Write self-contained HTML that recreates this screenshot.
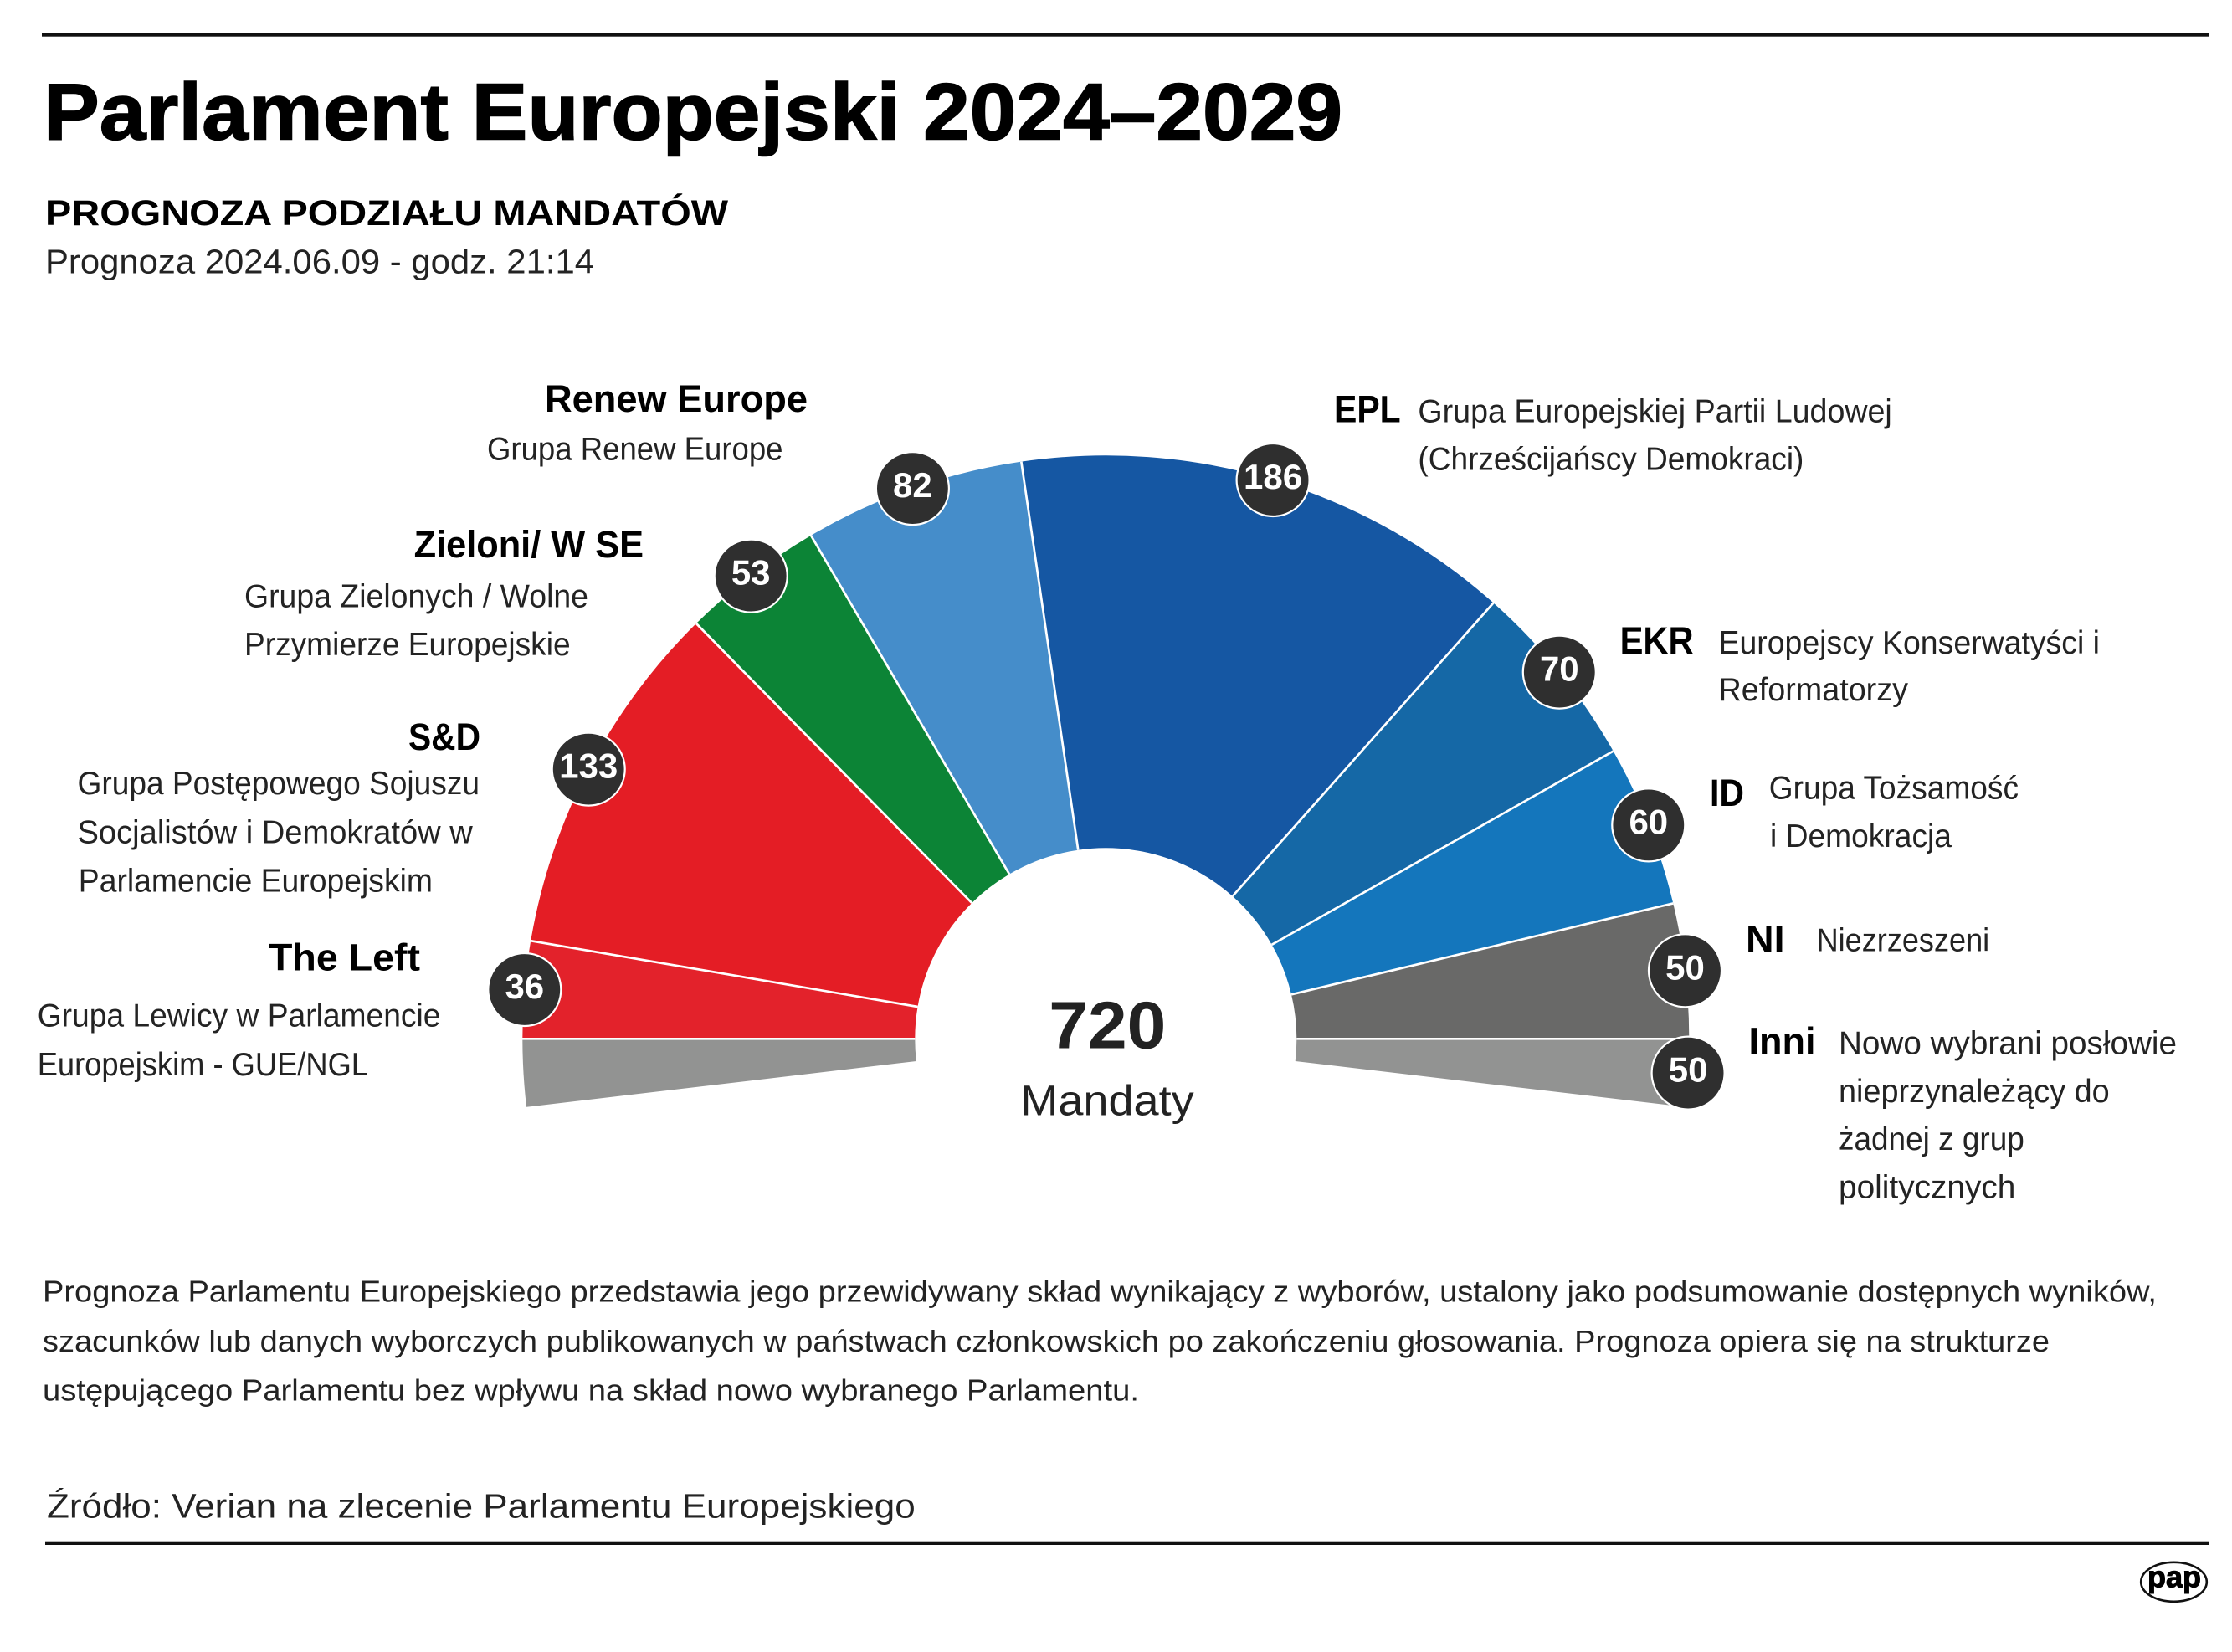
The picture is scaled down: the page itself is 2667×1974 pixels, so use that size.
<!DOCTYPE html>
<html>
<head>
<meta charset="utf-8">
<style>
  html,body{margin:0;padding:0;background:#fff;}
  svg{display:block;}
  text{font-family:"Liberation Sans", "DejaVu Sans", sans-serif;}
  .b{font-weight:bold;fill:#000;}
  .r{font-weight:normal;fill:#232323;}
  .num{font-weight:bold;fill:#fff;font-size:42px;}
</style>
</head>
<body>
<svg width="2667" height="1974" viewBox="0 0 2667 1974" xmlns="http://www.w3.org/2000/svg">
  <rect x="0" y="0" width="2667" height="1974" fill="#fff"/>
  <!-- top rule -->
  <rect x="50" y="39.5" width="2590" height="4.2" fill="#111"/>

  <!-- header -->
  <text class="b" x="52" y="166.7" font-size="96" textLength="1552" lengthAdjust="spacingAndGlyphs" stroke="#000" stroke-width="1.5">Parlament Europejski 2024–2029</text>
  <text class="b" x="54" y="269" font-size="43" textLength="816" lengthAdjust="spacingAndGlyphs">PROGNOZA PODZIAŁU MANDATÓW</text>
  <text class="r" x="54" y="326.5" font-size="41" textLength="656" lengthAdjust="spacingAndGlyphs">Prognoza 2024.06.09 - godz. 21:14</text>

  <!-- hemicycle segments -->
  <g stroke="none">
    <path fill="#929392" d="M629.08,1322.81 A697,697 0 0 1 624.3,1241.3 L1093.3,1241.3 A228,228 0 0 0 1094.86,1267.96 Z"/>
    <path fill="#e3222b" d="M624.3,1241.3 A697,697 0 0 1 634.20,1124.19 L1096.54,1202.99 A228,228 0 0 0 1093.3,1241.3 Z"/>
    <path fill="#e41d25" d="M634.20,1124.19 A697,697 0 0 1 831.92,744.99 L1161.21,1078.95 A228,228 0 0 0 1096.54,1202.99 Z"/>
    <path fill="#0c8436" d="M831.92,744.99 A697,697 0 0 1 969.03,639.85 L1206.07,1044.56 A228,228 0 0 0 1161.21,1078.95 Z"/>
    <path fill="#458dca" d="M969.03,639.85 A697,697 0 0 1 1220.35,551.65 L1288.28,1015.70 A228,228 0 0 0 1206.07,1044.56 Z"/>
    <path fill="#1557a3" d="M1220.35,551.65 A697,697 0 0 1 1784.44,720.43 L1472.80,1070.91 A228,228 0 0 0 1288.28,1015.70 Z"/>
    <path fill="#1568a6" d="M1784.44,720.43 A697,697 0 0 1 1927.65,897.52 L1519.65,1128.84 A228,228 0 0 0 1472.80,1070.91 Z"/>
    <path fill="#1476bc" d="M1927.65,897.52 A697,697 0 0 1 1999.23,1079.38 L1543.06,1188.33 A228,228 0 0 0 1519.65,1128.84 Z"/>
    <path fill="#696968" d="M1999.23,1079.38 A697,697 0 0 1 2018.3,1241.3 L1549.3,1241.3 A228,228 0 0 0 1543.06,1188.33 Z"/>
    <path fill="#929392" d="M2018.3,1241.3 A697,697 0 0 1 2013.52,1322.81 L1547.74,1267.96 A228,228 0 0 0 1549.3,1241.3 Z"/>
  </g>
  <!-- white separators -->
  <g stroke="#fff" stroke-width="2.7">
    <line x1="1093.3" y1="1241.3" x2="620" y2="1241.3"/>
    <line x1="1096.54" y1="1202.99" x2="634.20" y2="1124.19"/>
    <line x1="1161.21" y1="1078.95" x2="831.92" y2="744.99"/>
    <line x1="1206.07" y1="1044.56" x2="969.03" y2="639.85"/>
    <line x1="1288.28" y1="1015.70" x2="1220.35" y2="551.65"/>
    <line x1="1472.80" y1="1070.91" x2="1784.44" y2="720.43"/>
    <line x1="1519.65" y1="1128.84" x2="1927.65" y2="897.52"/>
    <line x1="1543.06" y1="1188.33" x2="1999.23" y2="1079.38"/>
    <line x1="1549.3" y1="1241.3" x2="2022" y2="1241.3"/>
  </g>

  <!-- center -->
  <text class="b" x="1253.3" y="1252.7" font-size="80" textLength="140" lengthAdjust="spacingAndGlyphs" style="fill:#222">720</text>
  <text class="r" x="1219.3" y="1332.7" font-size="51" textLength="207.4" lengthAdjust="spacingAndGlyphs" style="fill:#222">Mandaty</text>

  <!-- bubbles -->
  <g fill="#2f2f2f" stroke="#fff" stroke-width="2.2">
    <circle cx="626.8" cy="1182.5" r="43.5"/>
    <circle cx="703.2" cy="919.1" r="43.5"/>
    <circle cx="897.2" cy="688.1" r="43.5"/>
    <circle cx="1090.4" cy="583.6" r="43.5"/>
    <circle cx="1521.1" cy="573.5" r="43.5"/>
    <circle cx="1863.3" cy="803.1" r="43.5"/>
    <circle cx="1969.8" cy="985.9" r="43.5"/>
    <circle cx="2013.5" cy="1159.8" r="43.5"/>
    <circle cx="2017.1" cy="1282.1" r="43.5"/>
  </g>
  <g text-anchor="middle">
    <text class="num" x="626.8" y="1193">36</text>
    <text class="num" x="703.2" y="929.6">133</text>
    <text class="num" x="897.2" y="698.6">53</text>
    <text class="num" x="1090.4" y="594.1">82</text>
    <text class="num" x="1521.1" y="584">186</text>
    <text class="num" x="1863.3" y="813.6">70</text>
    <text class="num" x="1969.8" y="996.4">60</text>
    <text class="num" x="2013.5" y="1170.3">50</text>
    <text class="num" x="2017.1" y="1292.6">50</text>
  </g>

  <!-- left labels -->
  <text class="b" x="651" y="492" font-size="45" textLength="314" lengthAdjust="spacingAndGlyphs">Renew Europe</text>
  <text class="r" x="582" y="549.3" font-size="39" textLength="353.5" lengthAdjust="spacingAndGlyphs">Grupa Renew Europe</text>

  <text class="b" x="494.6" y="666" font-size="45" textLength="274.4" lengthAdjust="spacingAndGlyphs">Zieloni/ W SE</text>
  <text class="r" x="292" y="725.5" font-size="39" textLength="411" lengthAdjust="spacingAndGlyphs">Grupa Zielonych / Wolne</text>
  <text class="r" x="292" y="783" font-size="39" textLength="389.6" lengthAdjust="spacingAndGlyphs">Przymierze Europejskie</text>

  <text class="b" x="488" y="896" font-size="45" textLength="86" lengthAdjust="spacingAndGlyphs">S&amp;D</text>
  <text class="r" x="92.5" y="948.8" font-size="39" textLength="480.5" lengthAdjust="spacingAndGlyphs">Grupa Postępowego Sojuszu</text>
  <text class="r" x="92.5" y="1007.5" font-size="39" textLength="472.3" lengthAdjust="spacingAndGlyphs">Socjalistów i Demokratów w</text>
  <text class="r" x="93.8" y="1065.6" font-size="39" textLength="423.2" lengthAdjust="spacingAndGlyphs">Parlamencie Europejskim</text>

  <text class="b" x="321" y="1159.4" font-size="45" textLength="181" lengthAdjust="spacingAndGlyphs">The Left</text>
  <text class="r" x="44.7" y="1226.4" font-size="39" textLength="481.8" lengthAdjust="spacingAndGlyphs">Grupa Lewicy w Parlamencie</text>
  <text class="r" x="44.7" y="1285" font-size="39" textLength="395.3" lengthAdjust="spacingAndGlyphs">Europejskim - GUE/NGL</text>

  <!-- right labels -->
  <text class="b" x="1594" y="504.5" font-size="45" textLength="79.7" lengthAdjust="spacingAndGlyphs">EPL</text>
  <text class="r" x="1694.4" y="504.5" font-size="39" textLength="566.4" lengthAdjust="spacingAndGlyphs">Grupa Europejskiej Partii Ludowej</text>
  <text class="r" x="1694.4" y="561.3" font-size="39" textLength="461" lengthAdjust="spacingAndGlyphs">(Chrześcijańscy Demokraci)</text>

  <text class="b" x="1935.6" y="781" font-size="45" textLength="88" lengthAdjust="spacingAndGlyphs">EKR</text>
  <text class="r" x="2053.5" y="781" font-size="39" textLength="455.5" lengthAdjust="spacingAndGlyphs">Europejscy Konserwatyści i</text>
  <text class="r" x="2053.5" y="837.2" font-size="39" textLength="226.5" lengthAdjust="spacingAndGlyphs">Reformatorzy</text>

  <text class="b" x="2043" y="963" font-size="45" textLength="41" lengthAdjust="spacingAndGlyphs">ID</text>
  <text class="r" x="2113.8" y="954.4" font-size="39" textLength="298.2" lengthAdjust="spacingAndGlyphs">Grupa Tożsamość</text>
  <text class="r" x="2115" y="1012" font-size="39" textLength="217" lengthAdjust="spacingAndGlyphs">i Demokracja</text>

  <text class="b" x="2086" y="1137.5" font-size="45" textLength="46.5" lengthAdjust="spacingAndGlyphs">NI</text>
  <text class="r" x="2170.6" y="1136.7" font-size="39" textLength="206.6" lengthAdjust="spacingAndGlyphs">Niezrzeszeni</text>

  <text class="b" x="2089.5" y="1259.4" font-size="45" textLength="80" lengthAdjust="spacingAndGlyphs">Inni</text>
  <text class="r" x="2197" y="1259.4" font-size="39" textLength="404" lengthAdjust="spacingAndGlyphs">Nowo wybrani posłowie</text>
  <text class="r" x="2197" y="1317" font-size="39" textLength="323.7" lengthAdjust="spacingAndGlyphs">nieprzynależący do</text>
  <text class="r" x="2197" y="1373.8" font-size="39" textLength="221.8" lengthAdjust="spacingAndGlyphs">żadnej z grup</text>
  <text class="r" x="2197" y="1431.3" font-size="39" textLength="211.4" lengthAdjust="spacingAndGlyphs">politycznych</text>

  <!-- bottom paragraph -->
  <text class="r" x="51" y="1555.7" font-size="36" textLength="2526" lengthAdjust="spacingAndGlyphs">Prognoza Parlamentu Europejskiego przedstawia jego przewidywany skład wynikający z wyborów, ustalony jako podsumowanie dostępnych wyników,</text>
  <text class="r" x="51" y="1615" font-size="36" textLength="2398" lengthAdjust="spacingAndGlyphs">szacunków lub danych wyborczych publikowanych w państwach członkowskich po zakończeniu głosowania. Prognoza opiera się na strukturze</text>
  <text class="r" x="51" y="1673.3" font-size="36" textLength="1310" lengthAdjust="spacingAndGlyphs">ustępującego Parlamentu bez wpływu na skład nowo wybranego Parlamentu.</text>

  <text class="r" x="56" y="1813.3" font-size="41" textLength="1037.7" lengthAdjust="spacingAndGlyphs">Źródło: Verian na zlecenie Parlamentu Europejskiego</text>

  <!-- bottom rule -->
  <rect x="54" y="1841.7" width="2585" height="4.3" fill="#111"/>

  <!-- pap logo -->
  <ellipse cx="2597.5" cy="1890.3" rx="39.3" ry="23.5" fill="none" stroke="#111" stroke-width="2.6"/>
  <text class="b" x="2566" y="1896.7" font-size="36" textLength="64" lengthAdjust="spacingAndGlyphs" stroke="#000" stroke-width="1">pap</text>
</svg>
</body>
</html>
